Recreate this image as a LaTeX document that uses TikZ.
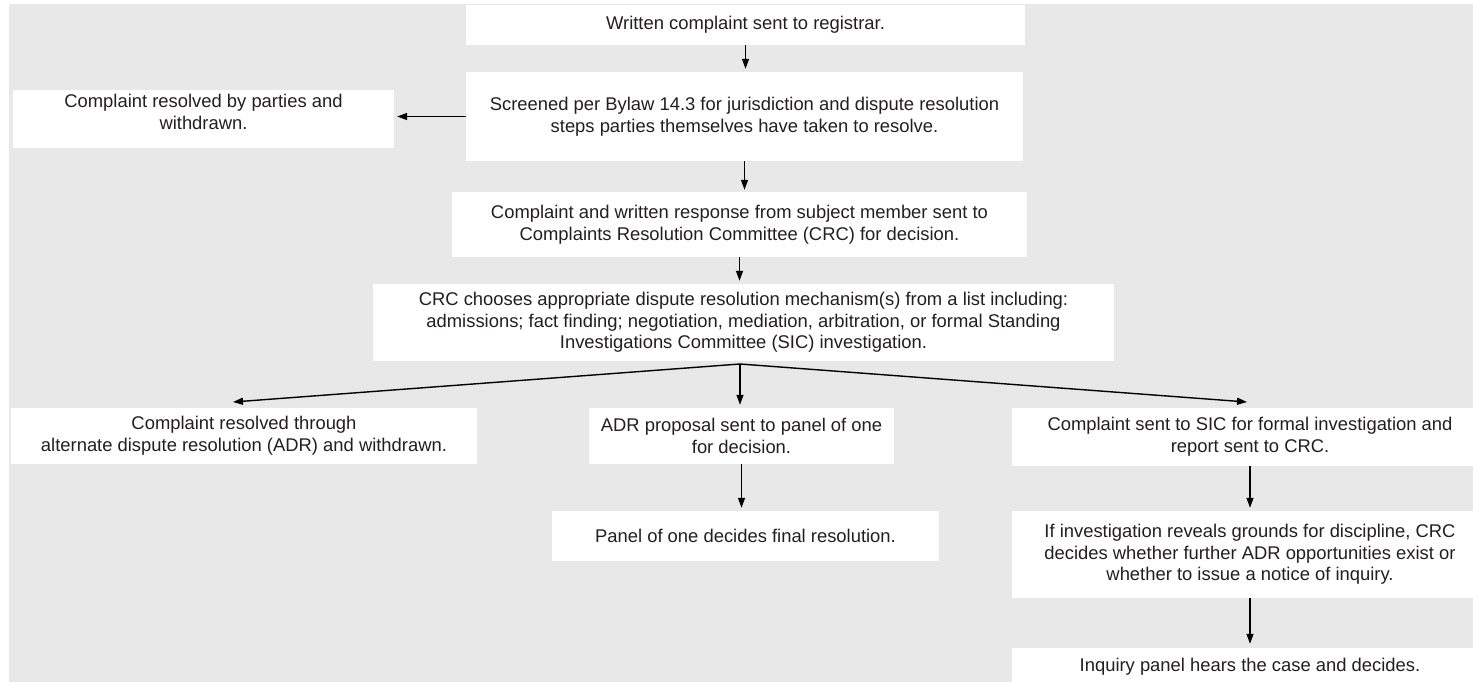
\documentclass[tikz,border=0pt]{standalone}
\usepackage{fontspec}
\setmainfont{Liberation Sans}
\usetikzlibrary{arrows.meta}
\definecolor{bggray}{RGB}{232,232,232}
\definecolor{ink}{RGB}{35,31,32}
\begin{document}
\begin{tikzpicture}[x=1pt,y=-1pt,
  box/.style={fill=white, inner sep=0pt, align=center, text=ink,
              font=\fontsize{18.4}{21.7}\selectfont},
  txt/.style={inner sep=0pt, align=center, text=ink,
              font=\fontsize{18.4}{21.7}\selectfont},
  arr/.style={draw=black, line width=1.4pt, -{Triangle[length=10pt,width=7pt]}}]
\useasboundingbox (0,0) rectangle (1473,682);
\fill[bggray] (9,4) rectangle (1473,682);

\node[box, minimum width=559, minimum height=40] (b1) at (745.5,25)
  {Written complaint sent to registrar.};
\node[box, minimum width=557, minimum height=89] (b2) at (744.5,116.5)
  {Screened per Bylaw 14.3 for jurisdiction and dispute resolution\\steps parties themselves have taken to resolve.};
\node[box, minimum width=381, minimum height=58] (L) at (203.5,119) {};
\node[txt] (Lt) at (203.5,112) {Complaint resolved by parties and\\withdrawn.};
\node[box, minimum width=575, minimum height=65] (b3) at (739.5,224.5)
  {Complaint and written response from subject member sent to\\Complaints Resolution Committee (CRC) for decision.};
\node[box, minimum width=741, minimum height=77] (b4) at (743.5,322.5)
  {CRC chooses appropriate dispute resolution mechanism(s) from a list including:\\admissions; fact finding; negotiation, mediation, arbitration, or formal Standing\\Investigations Committee (SIC) investigation.};
\node[box, minimum width=466, minimum height=56] (a1) at (244,436)
  {Complaint resolved through\\alternate dispute resolution (ADR) and withdrawn.};
\node[box, minimum width=305, minimum height=56] (a2) at (741.5,436)
  {ADR proposal sent to panel of one\\for decision.};
\node[box, minimum width=387, minimum height=50] (p) at (745.5,536)
  {Panel of one decides final resolution.};
\node[box, minimum width=476, minimum height=58] (c1) at (1250,437)
  {Complaint sent to SIC for formal investigation and\\report sent to CRC.};
\node[box, minimum width=476, minimum height=87] (c2) at (1250,554.5)
  {If investigation reveals grounds for discipline, CRC\\decides whether further ADR opportunities exist or\\whether to issue a notice of inquiry.};
\node[box, minimum width=476, minimum height=38] (c3) at (1250,667)
  {Inquiry panel hears the case and decides.};

\draw[arr, shorten >=3pt] (b1.south) -- (b1.south |- b2.north);
\draw[arr, shorten >=3pt] (b2.west) -- (b2.west -| L.east);
\draw[arr, shorten >=2pt] (b2.south) -- (b2.south |- b3.north);
\draw[arr, shorten >=3pt] (b3.south) -- (b3.south |- b4.north);
\coordinate (apex) at (740,364);
\coordinate (t1) at (233,402);
\coordinate (t3) at (1247,402);
\draw[arr] (apex) -- (t1);
\draw[arr, shorten >=3pt] (apex) -- (apex |- a2.north);
\draw[arr] (apex) -- (t3);
\draw[arr, shorten >=3pt] (a2.south) -- (a2.south |- p.north);
\draw[arr, shorten >=3pt] (c1.south) -- (c1.south |- c2.north);
\draw[arr, shorten >=4pt] (c2.south) -- (c2.south |- c3.north);
\end{tikzpicture}
\end{document}
